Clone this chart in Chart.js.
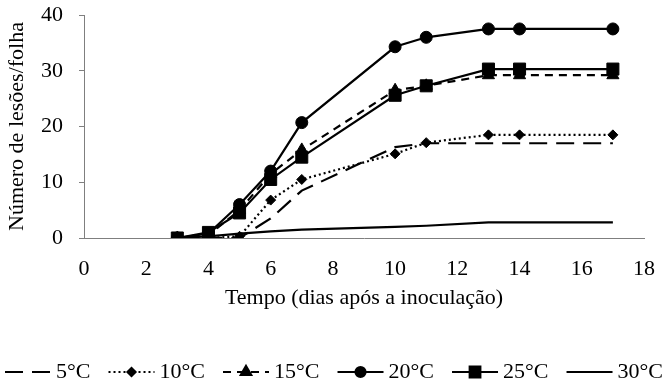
<!DOCTYPE html>
<html>
<head>
<meta charset="utf-8">
<script src="https://cdn.jsdelivr.net/npm/chart.js@4.4.1/dist/chart.umd.min.js"></script>
<style>
  html, body { margin: 0; padding: 0; background: #fff; }
  #wrap { width: 665px; height: 387px; }
</style>
</head>
<body>
<div id="wrap"><canvas id="grafico"></canvas></div>
<script>
// dias após a inoculação
const dias = [3, 4, 5, 6, 7, 10, 11, 13, 14, 17];

const temperaturas = ['5°C', '10°C', '15°C', '20°C', '25°C', '30°C'];

// número de lesões por folha
const lesoes5 = [0, 0, 0, 3.5, 8.5, 16.3, 17.0, 17.0, 17.0, 17.0];
const lesoes10 = [0, 0, 0.3, 6.8, 10.5, 15.1, 17.1, 18.5, 18.5, 18.5];
const lesoes15 = [0, 0.5, 5.0, 11.5, 15.8, 26.5, 27.3, 29.2, 29.2, 29.2];
const lesoes20 = [0, 0.8, 6.0, 12.0, 20.7, 34.3, 36.0, 37.5, 37.5, 37.5];
const lesoes25 = [0, 1.0, 4.5, 10.5, 14.5, 25.6, 27.3, 30.3, 30.3, 30.3];
const lesoes30 = [0, 0.3, 0.8, 1.2, 1.5, 2.0, 2.2, 2.8, 2.8, 2.8];

const xTicks = [0, 2, 4, 6, 8, 10, 12, 14, 16, 18];
const yTicks = [0, 10, 20, 30, 40];

const fonte = '"Liberation Serif", "Times New Roman", serif';

function pontos(valores) {
    return dias.map((d, i) => ({ x: d, y: valores[i] }));
}

function serie(label, valores, dash, estilo, raio) {
    return {
        label: label,
        data: pontos(valores),
        borderColor: '#000',
        backgroundColor: '#000',
        borderWidth: 2.2,
        borderDash: dash,
        pointStyle: estilo,
        pointRadius: raio,
        pointBorderWidth: 1,
        tension: 0
    };
}

// legenda desenhada à mão: linha + marcador + texto
const legendaLinhas = {
    id: 'legendaLinhas',
    afterDraw(chart) {
        const ctx = chart.ctx;
        const y = 372;
        const amostra = 46;
        const inicio = 5, fim = 663;
        ctx.save();
        ctx.font = '22px ' + fonte;
        ctx.textBaseline = 'middle';
        let ocupado = 0;
        chart.data.datasets.forEach(ds => {
            ocupado += amostra + 5 + ctx.measureText(ds.label).width;
        });
        const folga = (fim - inicio - ocupado) / (chart.data.datasets.length - 1);
        let x = inicio;
        chart.data.datasets.forEach(ds => {
            ctx.strokeStyle = '#000';
            ctx.lineWidth = 2.2;
            ctx.setLineDash(ds.borderDash || []);
            ctx.beginPath();
            ctx.moveTo(x, y);
            ctx.lineTo(x + amostra, y);
            ctx.stroke();
            ctx.setLineDash([]);
            if (ds.pointRadius > 0) {
                ctx.fillStyle = '#000';
                ctx.strokeStyle = '#000';
                Chart.helpers.drawPoint(ctx, {
                    pointStyle: ds.pointStyle,
                    radius: ds.pointRadius - 1,
                    borderWidth: 1
                }, x + amostra / 2, y);
            }
            ctx.fillStyle = '#000';
            ctx.fillText(ds.label, x + amostra + 5, y);
            x += amostra + 5 + ctx.measureText(ds.label).width + folga;
        });
        ctx.restore();
    }
};

new Chart(document.getElementById('grafico'), {
    type: 'line',
    data: {
        datasets: [
            serie(temperaturas[0], lesoes5, [18, 9], 'circle', 0),
            serie(temperaturas[1], lesoes10, [2, 3], 'rectRot', 5),
            serie(temperaturas[2], lesoes15, [8, 6], 'triangle', 7),
            serie(temperaturas[3], lesoes20, [], 'circle', 6),
            serie(temperaturas[4], lesoes25, [], 'rect', 8.5),
            serie(temperaturas[5], lesoes30, [], 'circle', 0)
        ]
    },
    options: {
        responsive: true,
        maintainAspectRatio: false,
        animation: false,
        layout: { padding: { left: 0, right: 20, top: 15, bottom: 74 } },
        plugins: {
            legend: { display: false },
            tooltip: { enabled: false }
        },
        scales: {
            x: {
                type: 'linear',
                min: 0,
                max: 18,
                afterBuildTicks: axis => { axis.ticks = xTicks.map(v => ({ value: v })); },
                afterFit: axis => { axis.height = 75; },
                grid: { display: false },
                border: { display: true, color: '#7f7f7f', width: 1 },
                ticks: { color: '#000', font: { family: fonte, size: 22 }, padding: 10, maxRotation: 0 },
                title: {
                    display: true,
                    text: 'Tempo (dias após a inoculação)',
                    color: '#000',
                    font: { family: fonte, size: 22 },
                    padding: { top: 0, bottom: 2 }
                }
            },
            y: {
                min: 0,
                max: 40,
                afterBuildTicks: axis => { axis.ticks = yTicks.map(v => ({ value: v })); },
                afterFit: axis => {
                    axis.width = 84;
                    axis.paddingTop = 1;
                    axis.paddingBottom = 1;
                },
                grid: { display: true, drawOnChartArea: false, drawTicks: true, tickLength: 5, color: '#7f7f7f' },
                border: { display: true, color: '#7f7f7f', width: 1 },
                ticks: { color: '#000', font: { family: fonte, size: 22 }, padding: 16 },
                title: {
                    display: true,
                    text: 'Número de lesões/folha',
                    color: '#000',
                    font: { family: fonte, size: 22 },
                    padding: { top: 4, bottom: 0 }
                }
            }
        }
    },
    plugins: [legendaLinhas]
});
</script>
</body>
</html>
